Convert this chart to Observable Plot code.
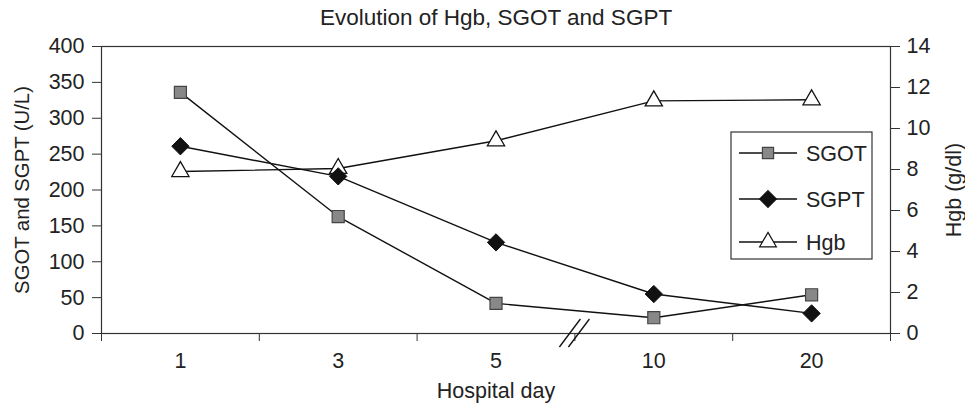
<!DOCTYPE html>
<html><head><meta charset="utf-8">
<script src="https://cdn.jsdelivr.net/npm/d3@7"></script>
<script src="https://cdn.jsdelivr.net/npm/@observablehq/plot@0.6"></script>
<style>
body{margin:0;background:#fff;}
#chart{width:965px;height:403px;}
</style></head><body><div id="chart"></div>
<script>
const days = ["1", "3", "5", "10", "20"];
const sgot = [336, 163, 42, 22, 54];
const sgpt = [261, 219, 127, 55, 28];
const hgb = [7.9, 8.05, 9.4, 11.35, 11.4];
const leftTicks = [0, 50, 100, 150, 200, 250, 300, 350, 400];
const rightTicks = [0, 2, 4, 6, 8, 10, 12, 14];
const seriesNames = ["SGOT", "SGPT", "Hgb"];
const title = "Evolution of Hgb, SGOT and SGPT";
const yLeftLabel = "SGOT and SGPT (U/L)";
const yRightLabel = "Hgb (g/dl)";
const xLabel = "Hospital day";

const FONT = "'Liberation Sans', Arial, sans-serif";
const FS = 21.5;
const ratio = 400 / 14;
const rows = days.map((d, i) => ({i, day: d, sgot: sgot[i], sgpt: sgpt[i], hgb: hgb[i] * ratio}));
const cx = d => d.i + 0.5;

const plot = Plot.plot({
  width: 965, height: 403,
  marginLeft: 101, marginRight: 75, marginTop: 46, marginBottom: 70,
  style: {fontFamily: FONT, fontSize: FS + "px", color: "#222", background: "#fff"},
  x: {domain: [0, days.length]},
  y: {domain: [0, 400]},
  marks: [
    Plot.frame({stroke: "#333", strokeWidth: 1.2}),
    Plot.axisY(leftTicks, {anchor: "left", tickSize: 9, tickPadding: 8, label: null, stroke: "#333", fontSize: FS}),
    Plot.axisY(rightTicks.map(v => v * ratio), {anchor: "right", tickSize: 9, tickPadding: 7, label: null, stroke: "#333", fontSize: FS, tickFormat: d => String(Math.round(d / ratio))}),
    Plot.axisX(d3.range(days.length + 1), {tickSize: 8, tickFormat: () => "", label: null, stroke: "#333"}),
    Plot.axisX(days.map((d, i) => i + 0.5), {tickSize: 0, tickPadding: 19, label: null, fontSize: FS, tickFormat: d => days[Math.floor(d)]}),
    Plot.text([title], {frameAnchor: "top", lineAnchor: "middle", dy: -29, fontSize: 22.5, fill: "#222"}),
    Plot.text([yLeftLabel], {frameAnchor: "left", textAnchor: "middle", lineAnchor: "middle", rotate: -90, dx: -79, fontSize: 20.3, fill: "#222"}),
    Plot.text([yRightLabel], {frameAnchor: "right", textAnchor: "middle", lineAnchor: "middle", rotate: -90, dx: 64, fontSize: FS, fill: "#222"}),
    Plot.text([xLabel], {frameAnchor: "bottom", lineAnchor: "middle", dy: 58, fontSize: FS, fill: "#222"}),
    Plot.line(rows, {x: cx, y: "hgb", stroke: "#111", strokeWidth: 1.4}),
    Plot.line(rows, {x: cx, y: "sgpt", stroke: "#111", strokeWidth: 1.4}),
    Plot.line(rows, {x: cx, y: "sgot", stroke: "#111", strokeWidth: 1.4}),
    Plot.dot(rows, {x: cx, y: "hgb", symbol: "triangle", r: 6.4, fill: "#fff", stroke: "#111", strokeWidth: 1.3}),
    Plot.dot(rows, {x: cx, y: "sgpt", symbol: "diamond2", r: 7.8, fill: "#111", stroke: "#111", strokeWidth: 1}),
    Plot.dot(rows, {x: cx, y: "sgot", symbol: "square", r: 6.8, fill: "#888", stroke: "#444", strokeWidth: 1.2})
  ]
});

const svg = d3.select(plot);
// axis break
const xs = plot.scale("x"), ys = plot.scale("y");
const xb = xs.apply(3), y0 = ys.apply(0);
const br = svg.append("g").attr("stroke", "#111").attr("stroke-width", 1.3);
[-4.5, 4.5].forEach(o => {
  br.append("line").attr("x1", xb + o - 10.5).attr("y1", y0 + 14).attr("x2", xb + o + 10.5).attr("y2", y0 - 14);
});
// legend
const lg = svg.append("g").attr("font-family", FONT).attr("font-size", FS);
lg.append("rect").attr("x", 731).attr("y", 132).attr("width", 141).attr("height", 127)
  .attr("fill", "#fff").attr("stroke", "#333").attr("stroke-width", 1.2);
const syms = [
  {sym: d3.symbolSquare, r: 6.3, fill: "#888", stroke: "#444"},
  {sym: d3.symbolDiamond2, r: 7.5, fill: "#111", stroke: "#111"},
  {sym: d3.symbolTriangle, r: 6.2, fill: "#fff", stroke: "#111"}
];
const ly = [153, 199, 242];
seriesNames.forEach((name, k) => {
  const g = lg.append("g").attr("transform", `translate(0,${ly[k]})`);
  g.append("line").attr("x1", 739).attr("x2", 797).attr("y1", 0).attr("y2", 0).attr("stroke", "#111").attr("stroke-width", 1.4);
  g.append("path").attr("transform", "translate(768,0)")
    .attr("d", d3.symbol(syms[k].sym, Math.PI * syms[k].r * syms[k].r)())
    .attr("fill", syms[k].fill).attr("stroke", syms[k].stroke).attr("stroke-width", 1.2);
  g.append("text").attr("x", 806).attr("y", 0).attr("dy", "0.35em")
    .attr("text-anchor", "start").attr("fill", "#222").text(name);
});

document.getElementById("chart").appendChild(plot);
</script></body></html>
